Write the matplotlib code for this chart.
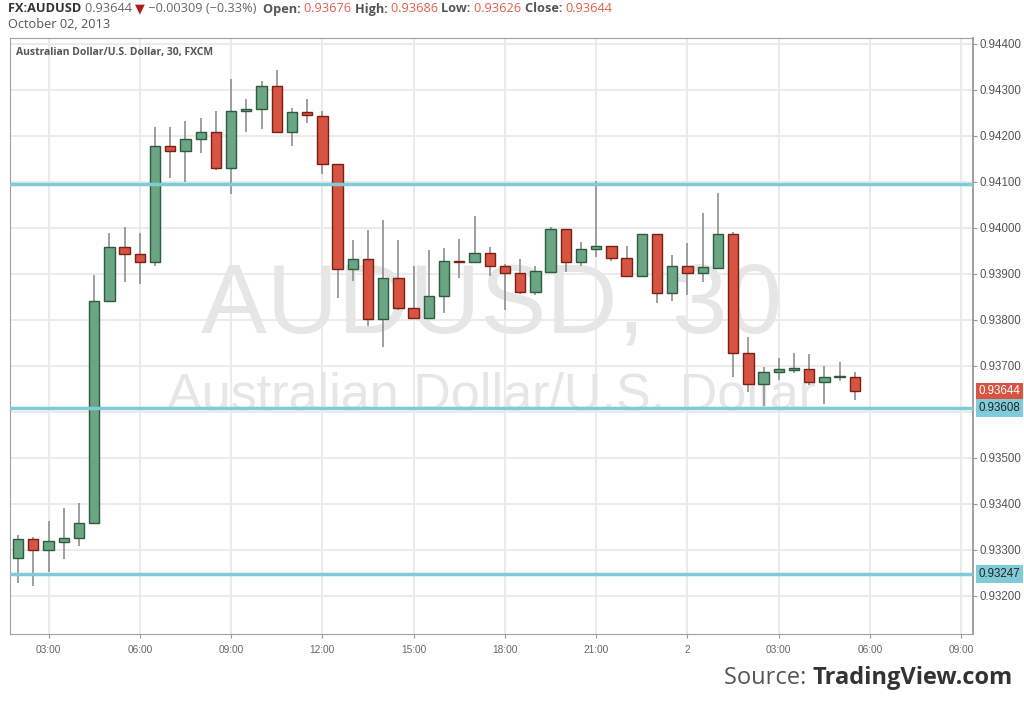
import numpy as np
import pandas as pd
import matplotlib
matplotlib.use("Agg")
import matplotlib.pyplot as plt
import matplotlib.dates as mdates
from matplotlib.transforms import Bbox, TransformedBbox

# 30 minute bars, FX:AUDUSD, Oct 1 02:00 -> Oct 2 05:30
times = pd.date_range("2013-10-01 02:00", periods=56, freq="30min")

opens = [0.93283, 0.93324, 0.93299, 0.93317, 0.93326, 0.93357, 0.93841, 0.93957,
         0.93943, 0.93926, 0.94178, 0.94166, 0.94193, 0.94208, 0.94130, 0.94254,
         0.94258, 0.94307, 0.94208, 0.94252, 0.94243, 0.94138, 0.93910, 0.93932,
         0.93802, 0.93890, 0.93825, 0.93804, 0.93852, 0.93928, 0.93925, 0.93945,
         0.93917, 0.93902, 0.93861, 0.93904, 0.93998, 0.93926, 0.93954, 0.93960,
         0.93934, 0.93894, 0.93987, 0.93859, 0.93917, 0.93901, 0.93913, 0.93987,
         0.93727, 0.93660, 0.93686, 0.93691, 0.93693, 0.93665, 0.93675, 0.93676]
highs = [0.93333, 0.93327, 0.93362, 0.93391, 0.93401, 0.93897, 0.93988, 0.94002,
         0.93988, 0.94219, 0.94219, 0.94232, 0.94238, 0.94254, 0.94324, 0.94280,
         0.94319, 0.94343, 0.94260, 0.94280, 0.94254, 0.94138, 0.93973, 0.93994,
         0.94017, 0.93973, 0.93917, 0.93952, 0.93956, 0.93975, 0.94025, 0.93958,
         0.93922, 0.93931, 0.93917, 0.94002, 0.93998, 0.93968, 0.94102, 0.93960,
         0.93960, 0.93987, 0.93987, 0.93940, 0.93967, 0.94033, 0.94075, 0.93990,
         0.93762, 0.93697, 0.93716, 0.93727, 0.93725, 0.93699, 0.93707, 0.93686]
lows = [0.93227, 0.93222, 0.93252, 0.93279, 0.93309, 0.93357, 0.93839, 0.93881,
        0.93877, 0.93917, 0.94107, 0.94100, 0.94163, 0.94125, 0.94073, 0.94207,
        0.94214, 0.94208, 0.94178, 0.94227, 0.94117, 0.93848, 0.93885, 0.93787,
        0.93740, 0.93821, 0.93804, 0.93804, 0.93815, 0.93891, 0.93925, 0.93896,
        0.93821, 0.93856, 0.93854, 0.93904, 0.93904, 0.93917, 0.93937, 0.93928,
        0.93894, 0.93892, 0.93837, 0.93841, 0.93854, 0.93881, 0.93913, 0.93676,
        0.93643, 0.93613, 0.93669, 0.93685, 0.93657, 0.93617, 0.93667, 0.93626]
closes = [0.93324, 0.93299, 0.93318, 0.93326, 0.93357, 0.93841, 0.93957, 0.93943,
          0.93926, 0.94178, 0.94166, 0.94193, 0.94208, 0.94130, 0.94254, 0.94258,
          0.94307, 0.94208, 0.94252, 0.94244, 0.94138, 0.93910, 0.93932, 0.93802,
          0.93890, 0.93825, 0.93804, 0.93852, 0.93928, 0.93925, 0.93945, 0.93917,
          0.93902, 0.93861, 0.93905, 0.93998, 0.93926, 0.93953, 0.93960, 0.93935,
          0.93894, 0.93987, 0.93859, 0.93917, 0.93901, 0.93914, 0.93987, 0.93727,
          0.93660, 0.93686, 0.93692, 0.93694, 0.93665, 0.93675, 0.93676, 0.93644]

levels = [0.94096, 0.93608, 0.93247]
level_labels = [None, "0.93608", "0.93247"]
last_price = 0.93644
price_ticks = [0.944, 0.943, 0.942, 0.941, 0.940, 0.939, 0.938, 0.937, 0.935, 0.934, 0.933, 0.932]

GREEN = "#6ba583"
GREEN_EDGE = "#2b5c3e"
RED = "#d75442"
RED_EDGE = "#7a1f14"
BLUE = "#7fcbd8"
GRID = "#ebebeb"

fig = plt.figure(figsize=(10.24, 7.04), dpi=100)
ax = fig.add_axes([10 / 1024, 1 - 634 / 704, 963 / 1024, 596 / 704])

x = mdates.date2num(times)
o = np.array(opens); h = np.array(highs); l = np.array(lows); c = np.array(closes)
up = c >= o
width = 0.34 / 24

# watermark
ax.text(0.5, 0.548, "AUDUSD, 30", transform=ax.transAxes, ha="center", va="center",
        fontsize=71, color="#e6e6e6", family="Liberation Sans", zorder=1)
ax.text(0.5, 0.4, "Australian Dollar/U.S. Dollar", transform=ax.transAxes, ha="center",
        va="center", fontsize=37.5, color="#e6e6e6", family="Liberation Sans", zorder=1)

ax.vlines(x, l, h, color="#8f8f8f", lw=1.2, zorder=3)
bottom = np.minimum(o, c)
height = np.maximum(np.abs(c - o), 0.000025)
ax.bar(x[up], height[up], width, bottom=bottom[up], color=GREEN, edgecolor=GREEN_EDGE,
       lw=1, zorder=4)
ax.bar(x[~up], height[~up], width, bottom=bottom[~up], color=RED, edgecolor=RED_EDGE,
       lw=1, zorder=4)

for lv in levels:
    ax.axhline(lv, color=BLUE, lw=2.5, zorder=5)

ax.set_xlim(mdates.date2num(pd.Timestamp("2013-10-01 01:44")),
            mdates.date2num(pd.Timestamp("2013-10-02 09:23")))
ax.set_ylim(0.931167, 0.944124)

ax.yaxis.tick_right()
ax.set_yticks(price_ticks)
ax.set_yticklabels(["%.5f" % v for v in price_ticks])
ax.grid(False)
for v in np.arange(0.932, 0.9445, 0.001):
    ax.axhline(v, color=GRID, lw=1.5, zorder=0)

ax.xaxis.set_major_locator(mdates.HourLocator(byhour=range(0, 24, 3)))
def fmt(val, pos):
    d = mdates.num2date(val)
    return str(d.day) if d.hour == 0 else d.strftime("%H:%M")
ax.xaxis.set_major_formatter(plt.FuncFormatter(fmt))
for t in ax.get_xticks():
    ax.axvline(t, color=GRID, lw=1.5, zorder=0)

ax.tick_params(axis="y", which="major", length=3, color="#999999", labelsize=8.3,
               labelcolor="#555555", pad=2)
ax.tick_params(axis="x", length=3, color="#999999", labelsize=7.3, labelcolor="#666666", pad=5)
# last time label is cut at the price scale, like the original
clip = TransformedBbox(Bbox([[0, 0], [973 / 1024, 1]]), fig.transFigure)
for lab in ax.get_xticklabels():
    lab.set_family("Liberation Sans")
    lab.set_clip_box(clip)
    lab.set_clip_on(True)
for lab in ax.get_yticklabels():
    lab.set_family("Liberation Sans")
for s in ["left", "top", "bottom"]:
    ax.spines[s].set_color("#a0a0a0")
ax.spines["right"].set_color("#999999")
ax.spines["right"].set_linewidth(1.3)

# price boxes on the right axis
def price_box(val, txt, fc, tc):
    ax.annotate(txt, xy=(1.0, val), xycoords=("axes fraction", "data"),
                xytext=(4, 0), textcoords="offset points", va="center", ha="left",
                fontsize=8.3, color=tc, family="Liberation Sans", zorder=10,
                annotation_clip=False,
                bbox=dict(boxstyle="square,pad=0.25", fc=fc, ec="none"))

price_box(last_price, "%.5f" % last_price, RED, "white")
for lv, lb in zip(levels, level_labels):
    if lb:
        price_box(lv, lb, BLUE, "#222222")

ax.text(6 / 963, 1 - 14 / 596, "Australian Dollar/U.S. Dollar, 30, FXCM", transform=ax.transAxes,
        fontsize=7.5, fontweight="bold", color="#555555", family="Open Sans", va="center")

# header line
rend = fig.canvas.get_renderer()
def row(parts, px, py, size):
    for s, col, wt in parts:
        t = fig.text(px / 1024, 1 - py / 704, s, color=col, fontweight=wt, fontsize=size,
                     family=["Open Sans", "DejaVu Sans"], va="center", ha="left")
        px += t.get_window_extent(rend).width
    return px

HRED = "#e35d4b"
row([("FX:AUDUSD ", "#333333", "bold"), ("0.93644 ", "#666666", "normal"),
     ("\u25bc", "#b31b1b", "normal"), (" \u22120.00309 (\u22120.33%)  ", "#666666", "normal"),
     ("Open: ", "#555555", "bold"), ("0.93676 ", HRED, "normal"),
     ("High: ", "#555555", "bold"), ("0.93686 ", HRED, "normal"),
     ("Low: ", "#555555", "bold"), ("0.93626 ", HRED, "normal"),
     ("Close: ", "#555555", "bold"), ("0.93644", HRED, "normal")], 8, 9, 9.2)
row([("October 02, 2013", "#555555", "normal")], 8, 24, 9.2)

row([("Source: ", "#555555", "normal"), ("TradingView.com", "#333333", "bold")], 724, 678, 17)

fig.savefig("out.png", dpi=100)
